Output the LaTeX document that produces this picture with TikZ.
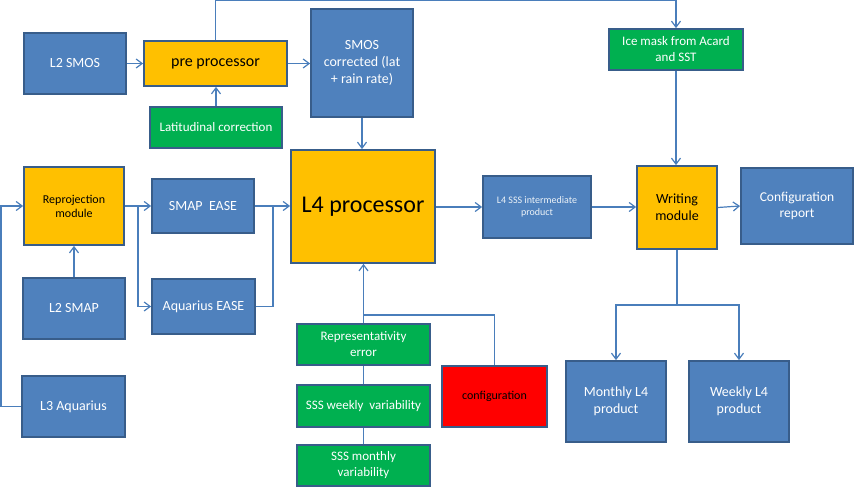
\documentclass[tikz,border=0pt]{standalone}
\usepackage{fontspec}
\setmainfont{Carlito}
\usetikzlibrary{arrows.meta}
\definecolor{bfill}{HTML}{4F81BD}
\definecolor{bdraw}{HTML}{385D8A}
\definecolor{ofill}{HTML}{FFC000}
\definecolor{gfill}{HTML}{00B050}
\definecolor{rfill}{HTML}{FF0000}
\definecolor{conncol}{HTML}{4A7EBB}
\tikzset{
  box/.style={draw=bdraw, line width=1.8bp, inner sep=1bp, align=center},
  bluebox/.style={box, fill=bfill, text=white},
  orangebox/.style={box, fill=ofill, text=black},
  greenbox/.style={box, fill=gfill, text=white},
  redbox/.style={box, fill=rfill, text=black},
  wh/.style 2 args={minimum width=#1bp, minimum height=#2bp},
  conn/.style={draw=conncol, line width=1.2bp},
  arr/.style={conn, -{Straight Barb[length=6bp,width=9bp,line width=1.2bp]}},
}
\begin{document}
\begin{tikzpicture}[x=1bp,y=-1bp]
\useasboundingbox (0,0) rectangle (855,490);
% nodes
\node[bluebox, wh={102}{61}, font=\fontsize{14bp}{17bp}\selectfont] (l2smos) at (75,63.5) {L2 SMOS};
\node[orangebox, wh={143}{45}, font=\fontsize{16bp}{19bp}\selectfont] (pre) at (215.5,63.5) {pre processor};
\node[greenbox, wh={132}{41}, font=\fontsize{13bp}{16bp}\selectfont] (lat) at (216,127.5) {Latitudinal correction};
\node[bluebox, wh={102}{108}, font=\fontsize{14bp}{17bp}\selectfont] (smosc) at (362,63) {SMOS\\corrected (lat\\+ rain rate)};
\node[greenbox, wh={134}{41}, font=\fontsize{13bp}{16bp}\selectfont] (ice) at (676,49.5) {Ice mask from Acard\\and SST};
\node[orangebox, wh={144}{113}, font=\fontsize{24bp}{28bp}\selectfont] (l4) at (363,206.5) {L4 processor};
\node[orangebox, wh={100}{78}, font=\fontsize{12bp}{14bp}\selectfont] (repro) at (74,206) {Reprojection\\module};
\node[bluebox, wh={102}{54}, font=\fontsize{14bp}{17bp}\selectfont] (smap) at (203,206) {SMAP\ \ EASE};
\node[bluebox, wh={103}{55}, font=\fontsize{14bp}{17bp}\selectfont] (aqe) at (203.5,306.5) {Aquarius EASE};
\node[bluebox, wh={102}{61}, font=\fontsize{14bp}{17bp}\selectfont] (l2smap) at (74,308.5) {L2 SMAP};
\node[bluebox, wh={103}{61}, font=\fontsize{14bp}{17bp}\selectfont] (l3aq) at (73.5,406.5) {L3 Aquarius};
\node[greenbox, wh={133}{41}, font=\fontsize{13bp}{16bp}\selectfont] (rep) at (363.5,344.5) {Representativity\\error};
\node[greenbox, wh={133}{42}, font=\fontsize{13bp}{16bp}\selectfont] (wk) at (363.5,406) {SSS weekly\ \ variability};
\node[greenbox, wh={133}{41}, font=\fontsize{13bp}{16bp}\selectfont] (mo) at (363.5,465.5) {SSS monthly\\variability};
\node[redbox, wh={105}{61}, font=\fontsize{12bp}{14bp}\selectfont] (conf) at (494.5,396.5) {configuration};
\node[bluebox, wh={108}{62}, text=white!90!bfill, font=\fontsize{10bp}{12bp}\selectfont] (l4sss) at (537,207) {L4 SSS intermediate\\product};
\node[orangebox, wh={80}{83}, font=\fontsize{14bp}{17bp}\selectfont] (wr) at (677,207.5) {Writing\\module};
\node[bluebox, wh={112}{76}, font=\fontsize{13.5bp}{16.5bp}\selectfont] (cfr) at (797,206) {Configuration\\report};
\node[bluebox, wh={100}{81}, font=\fontsize{14bp}{17bp}\selectfont] (mon) at (616,401.5) {Monthly L4\\product};
\node[bluebox, wh={100}{81}, font=\fontsize{14bp}{17bp}\selectfont] (wkl) at (739,401.5) {Weekly L4\\product};
% helper coordinates
\coordinate (br) at (138,206);
\coordinate (mg) at (273,206);
\coordinate (jn) at (363.5,315);
\coordinate (sp) at (677,305);
% connectors
\draw[arr] (l2smos.east) -- (pre.west);
\draw[arr] (pre.east) -- (smosc.west |- pre.east);
\draw[arr] (lat.north) -- (pre.south -| lat.north);
\draw[arr] (pre.north) -- ++(0,-40) -| (ice.north);
\draw[arr] (smosc.south) -- (smosc.south |- l4.north);
\draw[arr] (ice.south) -- (ice.south |- wr.north);
\draw[arr] (l3aq.west) -- ++(-20,0) |- (repro.west);
\draw[arr] (l2smap.north) -- (repro.south);
\draw[arr] (repro.east) -- (smap.west);
\draw[arr] (br) |- (aqe.west);
\draw[arr] (smap.east) -- (l4.west |- smap.east);
\draw[conn] (aqe.east) -| (mg);
\draw[arr] (rep.north) -- (rep.north |- l4.south);
\draw[conn] (jn) -| (conf.north);
\draw[conn] (rep.south) -- (wk.north);
\draw[conn] (wk.south) -- (mo.north);
\draw[arr] (l4.east |- l4sss.west) -- (l4sss.west);
\draw[arr] (l4sss.east) -- (wr.west |- l4sss.east);
\draw[arr] (wr.east) -- (cfr.west);
\draw[conn] (wr.south) -- (sp);
\draw[arr] (sp) -| (mon.north);
\draw[arr] (sp) -| (wkl.north);
\end{tikzpicture}
\end{document}
